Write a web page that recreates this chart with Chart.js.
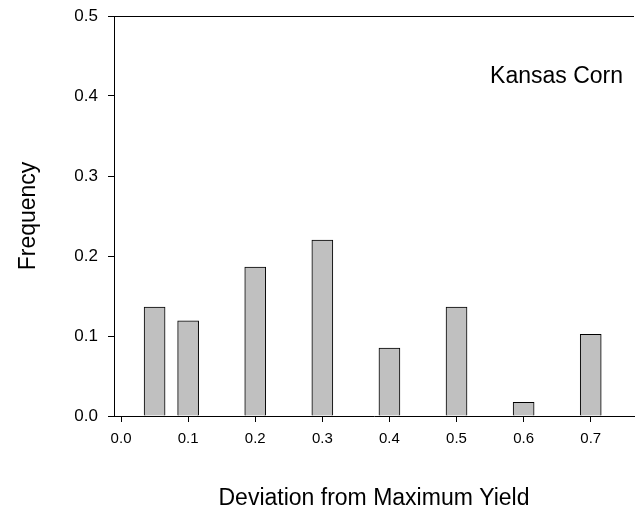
<!DOCTYPE html>
<html>
<head>
<meta charset="utf-8">
<script src="https://cdn.jsdelivr.net/npm/chart.js@4"></script>
<style>
  body { margin: 0; background: #fff; }
  #chart { display: block; }
</style>
</head>
<body>
<canvas id="chart" width="635" height="511"></canvas>
<script>
// bin centres and relative frequencies
const binCenters = [0.05, 0.1, 0.2, 0.3, 0.4, 0.5, 0.6, 0.7];
const frequencies = [0.136, 0.119, 0.186, 0.220, 0.085, 0.136, 0.017, 0.102];
const xTicks = [0.0, 0.1, 0.2, 0.3, 0.4, 0.5, 0.6, 0.7];
const yTicks = [0.0, 0.1, 0.2, 0.3, 0.4, 0.5];

const xTitle = 'Deviation from Maximum Yield';
const yTitle = 'Frequency';
const panelLabel = 'Kansas Corn';

const FONT = '"Liberation Sans", Arial, Helvetica, sans-serif';

// top frame line + titles
const decorations = {
    id: 'decorations',
    afterDraw(chart) {
        const ctx = chart.ctx;
        const area = chart.chartArea;
        ctx.save();
        ctx.strokeStyle = '#000';
        ctx.lineWidth = 1;
        ctx.beginPath();
        ctx.moveTo(area.left, Math.round(area.top) + 0.5);
        ctx.lineTo(area.right, Math.round(area.top) + 0.5);
        ctx.stroke();

        ctx.fillStyle = '#000';
        ctx.font = '23px ' + FONT;
        ctx.textBaseline = 'alphabetic';

        // x title
        ctx.textAlign = 'center';
        ctx.fillText(xTitle, (area.left + area.right) / 2, 505);

        // panel label
        ctx.textAlign = 'right';
        ctx.fillText(panelLabel, 623, 83);

        // y title (rotated)
        ctx.translate(35, (area.top + area.bottom) / 2);
        ctx.rotate(-Math.PI / 2);
        ctx.textAlign = 'center';
        ctx.fillText(yTitle, 0, 0);
        ctx.restore();
    }
};

const ctx = document.getElementById('chart').getContext('2d');
new Chart(ctx, {
    type: 'bar',
    data: {
        datasets: [{
            data: binCenters.map((x, i) => ({ x: x, y: frequencies[i] })),
            backgroundColor: '#c0c0c0',
            borderColor: '#000',
            borderWidth: 1,
            barThickness: 21
        }]
    },
    options: {
        responsive: false,
        animation: false,
        devicePixelRatio: 1,
        layout: { padding: { top: 16, right: 1, left: 0, bottom: 0 } },
        plugins: {
            legend: { display: false },
            tooltip: { enabled: false }
        },
        scales: {
            x: {
                type: 'linear',
                offset: false,
                min: -0.0105,
                max: 0.7645,
                afterBuildTicks: (scale) => { scale.ticks = xTicks.map(v => ({ value: v })); },
                afterFit: (scale) => { scale.height = 95; },
                ticks: {
                    color: '#000',
                    font: { family: FONT, size: 15 },
                    padding: 8,
                    maxRotation: 0,
                    callback: (v) => Number(v).toFixed(1)
                },
                grid: { offset: false, drawOnChartArea: false, drawTicks: true, tickLength: 6, color: '#000' },
                border: { display: true, color: '#000', width: 1 }
            },
            y: {
                min: 0,
                max: 0.5,
                afterBuildTicks: (scale) => { scale.ticks = yTicks.map(v => ({ value: v })); },
                afterFit: (scale) => {
                    scale.width = 114;
                    scale.paddingTop = 0;
                    scale.paddingBottom = 0;
                },
                ticks: {
                    color: '#000',
                    font: { family: FONT, size: 17 },
                    padding: 10,
                    callback: (v) => Number(v).toFixed(1)
                },
                grid: { drawOnChartArea: false, drawTicks: true, tickLength: 6, color: '#000' },
                border: { display: true, color: '#000', width: 1 }
            }
        }
    },
    plugins: [decorations]
});
</script>
</body>
</html>
